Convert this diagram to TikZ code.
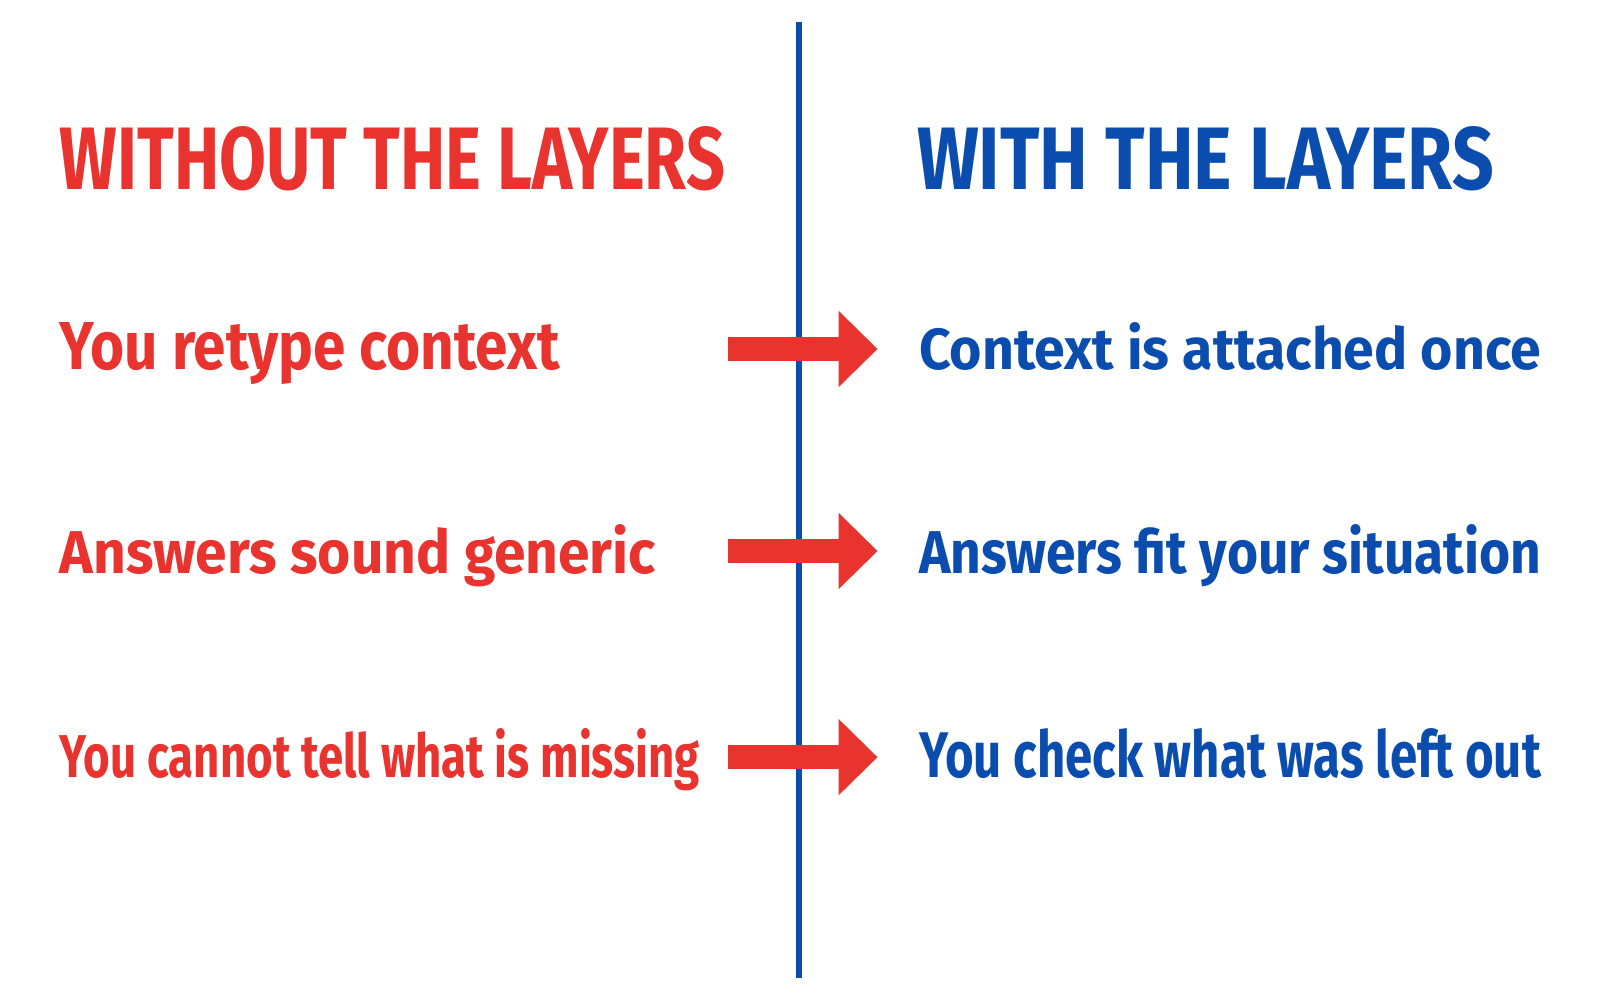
\documentclass[tikz,border=0pt]{standalone}
\usepackage{fontspec}
\setmainfont{Fira Sans}
\usepackage{graphicx}
\usetikzlibrary{arrows.meta}
\definecolor{lossred}{HTML}{E8332F}
\definecolor{gainblue}{HTML}{0B4DAE}
\newcommand{\fitbox}[3]{\resizebox{#1}{#2}{\bfseries #3}}
\begin{document}
\begin{tikzpicture}[x=1.0204cm,y=-1.0204cm,
  txt/.style={anchor=base west,inner sep=0pt},
  bad/.style={txt,text=lossred},
  good/.style={txt,text=gainblue},
  fat/.style={lossred,line width=0.24cm,-{Triangle[length=0.39cm,width=0.74cm]}}]
  \useasboundingbox (0,0) rectangle (15.68,9.8);
  % divider
  \coordinate (top) at (7.83,0.22);
  \coordinate (bot) at (7.83,9.58);
  \draw[gainblue,line width=1.6pt] (top) -- (bot);
  % headings
  \node[bad] (hl) at (0.58,1.86) {\fitbox{6.65cm}{0.63cm}{WITHOUT THE LAYERS}};
  \node[good] (hr) at (8.98,1.86) {\fitbox{5.77cm}{0.63cm}{WITH THE LAYERS}};
  % rows
  \node[bad] (l1) at (0.58,3.62) {\fitbox{5.0cm}{0.47cm}{You retype context}};
  \node[bad] (l2) at (0.58,5.62) {\fitbox{5.96cm}{0.49cm}{Answers sound generic}};
  \node[bad] (l3) at (0.58,7.62) {\fitbox{6.4cm}{0.49cm}{You cannot tell what is missing}};
  \node[good] (r1) at (9.0,3.62) {\fitbox{6.22cm}{0.47cm}{Context is attached once}};
  \node[good] (r2) at (9.0,5.62) {\fitbox{6.22cm}{0.49cm}{Answers fit your situation}};
  \node[good] (r3) at (9.0,7.62) {\fitbox{6.22cm}{0.49cm}{You check what was left out}};
  % arrows
  \foreach \i/\y in {1/3.42,2/5.40,3/7.42}{
    \coordinate (a\i) at (7.13,\y);
    \coordinate (b\i) at (8.6,\y);
    \draw[fat] (a\i) -- (b\i);
  }
\end{tikzpicture}
\end{document}
